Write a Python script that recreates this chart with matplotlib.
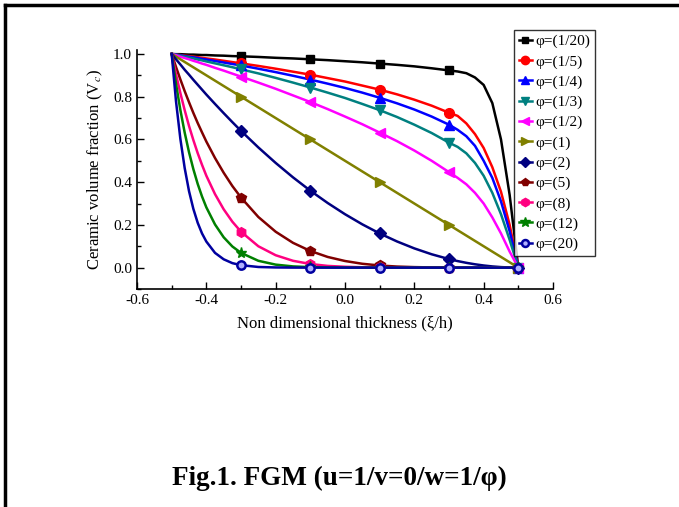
import matplotlib
matplotlib.use("Agg")
import matplotlib.pyplot as plt
from matplotlib.lines import Line2D
from matplotlib.ticker import MultipleLocator

plt.rcParams['font.family'] = ['Liberation Serif', 'DejaVu Serif']
plt.rcParams['mathtext.fontset'] = 'stix'

# curve grid (non dimensional thickness)
z_curve = [-0.5, -0.4875, -0.475, -0.4625, -0.45, -0.4375, -0.425, -0.4125, -0.4,
           -0.375, -0.35, -0.325,
           -0.3, -0.25, -0.2, -0.15, -0.1, -0.05, 0.0, 0.05, 0.1, 0.15, 0.2, 0.25, 0.3,
           0.325, 0.35, 0.375, 0.4, 0.425, 0.45, 0.475, 0.5]
# marker positions
z_mark = [-0.3, -0.1, 0.1, 0.3, 0.5]

labels = ['φ=(1/20)', 'φ=(1/5)', 'φ=(1/4)', 'φ=(1/3)', 'φ=(1/2)', 'φ=(1)',
          'φ=(2)', 'φ=(5)', 'φ=(8)', 'φ=(12)', 'φ=(20)']

curve_p1_20 = [1, .999, .999, .998, .997, .997, .996, .995, .995,
               .993, .992, .990,
               .989, .986, .982, .979, .975, .971, .966, .961, .955, .949, .942, .933, .923,
               .918, .91, .89, .855, .77, .60, .34, 0]
curve_p1_5 = [1, .997, .995, .992, .990, .987, .985, .982, .979,
              .974, .968, .962,
              .956, .944, .931, .917, .903, .887, .871, .852, .833, .811, .786, .758, .725,
              .71, .675, .625, .56, .47, .355, .2, 0]
curve_p1_4 = [1, .997, .994, .990, .987, .984, .981, .977, .974,
              .967, .960, .953,
              .946, .931, .915, .898, .880, .861, .841, .819, .795, .769, .740, .707, .669,
              .645, .615, .57, .50, .42, .31, .17, 0]
curve_p1_3 = [1, .996, .992, .987, .983, .979, .974, .970, .965,
              .956, .947, .938,
              .928, .909, .888, .866, .843, .819, .794, .766, .737, .705, .669, .630, .585,
              .565, .535, .49, .43, .35, .25, .13, 0]
curve_p1_2 = [1, .994, .987, .981, .975, .968, .962, .955, .949,
              .935, .922, .908,
              .894, .866, .837, .806, .775, .742, .707, .671, .632, .592, .548, .5, .447,
              .42, .39, .35, .30, .235, .16, .075, 0]
curve_p1 = [1, .9875, .975, .9625, .95, .9375, .925, .9125, .9,
            .875, .85, .825,
            .8, .75, .7, .65, .6, .55, .5, .45, .4, .35, .3, .25, .2,
            .175, .15, .125, .1, .075, .05, .025, 0]
curve_p2 = [1, .975, .951, .926, .903, .879, .856, .833, .81,
            .766, .723, .681,
            .64, .5625, .49, .4225, .36, .3025, .25, .2025, .16, .1225, .09, .0625, .04,
            .0306, .0225, .0156, .01, .0056, .0025, .0006, 0]
curve_p5 = [1, .939, .881, .826, .774, .724, .677, .633, .590,
            .513, .444, .382,
            .328, .237, .168, .116, .078, .050, .031, .018, .010, .005, .0024, .001, .0003,
            .0002, .0001, 0, 0, 0, 0, 0, 0]
curve_p8 = [1, .904, .817, .737, .663, .597, .536, .481, .430,
            .344, .273, .215,
            .168, .100, .058, .032, .017, .008, .004, .0017, .0007, .0002, 0, 0, 0,
            0, 0, 0, 0, 0, 0, 0, 0]
curve_p12 = [1, .860, .738, .632, .540, .461, .392, .333, .282,
             .202, .142, .099,
             .069, .032, .014, .0057, .0022, .0008, .0002, 0, 0, 0, 0, 0, 0,
             0, 0, 0, 0, 0, 0, 0, 0]
curve_p20 = [1, .778, .603, .466, .358, .275, .210, .160, .122,
             .069, .039, .021,
             .0115, .003, .0008, .0001, 0, 0, 0, 0, 0, 0, 0, 0, 0,
             0, 0, 0, 0, 0, 0, 0, 0]

mark_p1_20 = [0.989, 0.975, 0.955, 0.923, 0]
mark_p1_5 = [0.956, 0.903, 0.833, 0.725, 0]
mark_p1_4 = [0.946, 0.880, 0.795, 0.669, 0]
mark_p1_3 = [0.928, 0.843, 0.737, 0.585, 0]
mark_p1_2 = [0.894, 0.775, 0.632, 0.447, 0]
mark_p1 = [0.8, 0.6, 0.4, 0.2, 0]
mark_p2 = [0.64, 0.36, 0.16, 0.04, 0]
mark_p5 = [0.328, 0.078, 0.010, 0.0003, 0]
mark_p8 = [0.168, 0.017, 0.0007, 0, 0]
mark_p12 = [0.069, 0.002, 0, 0, 0]
mark_p20 = [0.0115, 0, 0, 0, 0]

curves = [curve_p1_20, curve_p1_5, curve_p1_4, curve_p1_3, curve_p1_2, curve_p1,
          curve_p2, curve_p5, curve_p8, curve_p12, curve_p20]
marks = [mark_p1_20, mark_p1_5, mark_p1_4, mark_p1_3, mark_p1_2, mark_p1,
         mark_p2, mark_p5, mark_p8, mark_p12, mark_p20]

colors = ['#000000', '#FF0000', '#0000FF', '#008080', '#FF00FF', '#808000',
          '#000080', '#800000', '#FF0080', '#008000', '#0000A0']
markers = ['s', 'o', '^', 'v', '<', '>', 'D', 'p', 'h', '*', 'o']
msizes = [6, 7, 7, 7, 7, 7, 6, 7, 7, 8, 6]

fig = plt.figure(figsize=(6.79, 5.07), dpi=100)
ax = fig.add_axes([0.2018, 0.430, 0.6126, 0.472])

handles = []
for i in range(len(labels)):
    ax.plot(z_curve, curves[i], color=colors[i], lw=1.8, zorder=2,
            solid_joinstyle='round')
    mfc = colors[i]
    mew = 1.0
    if i == 10:
        mfc = '#B0B0FF'
        mew = 1.8
    ax.plot(z_mark, marks[i], linestyle='none', marker=markers[i], ms=msizes[i],
            color=colors[i], mfc=mfc, mec=colors[i], mew=mew, zorder=3)
    handles.append(Line2D([], [], color=colors[i], lw=1.8, marker=markers[i],
                          ms=msizes[i] - 1, mfc=mfc, mec=colors[i], mew=mew))

ax.set_xlim(-0.6, 0.6)
ax.set_ylim(-0.1, 1.02)
ax.xaxis.set_minor_locator(MultipleLocator(0.1))
ax.yaxis.set_minor_locator(MultipleLocator(0.1))
ax.set_yticks([0.0, 0.2, 0.4, 0.6, 0.8, 1.0])
ax.set_xticks([-0.6, -0.4, -0.2, 0.0, 0.2, 0.4, 0.6])
ax.set_xticklabels(['-0.6', '-0.4', '-0.2', '0.0', '0.2', '0.4', '0.6'])
ax.set_yticklabels(['0.0', '0.2', '0.4', '0.6', '0.8', '1.0'])
ax.tick_params(which='major', direction='in', length=5, width=1, labelsize=11)
ax.tick_params(which='minor', direction='in', length=3, width=1)
ax.spines['top'].set_visible(False)
ax.spines['right'].set_visible(False)
ax.spines['left'].set_linewidth(1.2)
ax.spines['bottom'].set_linewidth(1.2)

ax.set_xlabel('Non dimensional thickness (ξ/h)', fontsize=12, labelpad=6)
ax.set_ylabel('Ceramic volume fraction (V$_c$)', fontsize=12, labelpad=6)

leg = fig.legend(handles, labels, loc='upper left', bbox_to_anchor=(0.757, 0.941),
                 fontsize=11, frameon=True, fancybox=False, edgecolor='black',
                 handlelength=0.85, handletextpad=0.25, labelspacing=0.42,
                 borderpad=0.3, borderaxespad=0)
leg.get_frame().set_linewidth(1.0)

fig.text(0.5, 0.057, 'Fig.1. FGM (u=1/v=0/w=1/φ)', ha='center', va='center',
         fontsize=19.5, fontweight='bold')

# page border (top and left)
fig.add_artist(Line2D([0.0075, 1.0], [0.9901, 0.9901], color='black', lw=2.5,
                      transform=fig.transFigure))
fig.add_artist(Line2D([0.0075, 0.0075], [0.0, 0.9901], color='black', lw=2.5,
                      transform=fig.transFigure))

fig.savefig('out.png', dpi=100)
